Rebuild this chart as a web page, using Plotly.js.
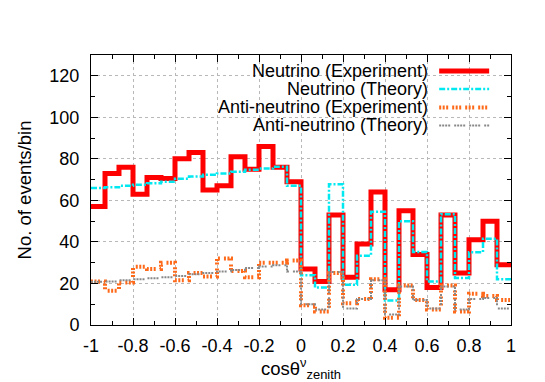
<!DOCTYPE html>
<html>
<head>
<meta charset="utf-8">
<script src="https://cdn.plot.ly/plotly-3.0.1.min.js"></script>
<style>html,body{margin:0;padding:0;background:#fff;}#chart{width:545px;height:382px;}</style>
</head>
<body>
<div id="chart"></div>
<script>
// Bin edges of cos(theta) zenith (30 bins)
var binEdges = [-1, -0.9333, -0.8667, -0.8, -0.7333, -0.6667, -0.6, -0.5333, -0.4667, -0.4,
  -0.3333, -0.2667, -0.2, -0.1333, -0.0667, 0, 0.0667, 0.1333, 0.2, 0.2667,
  0.3333, 0.4, 0.4667, 0.5333, 0.6, 0.6667, 0.7333, 0.8, 0.8667, 0.9333, 1];

var nuExp = [57, 73, 76, 63, 71, 70.5, 80, 83, 65, 67, 81, 75, 86, 76, 69,
  27, 21, 53, 23, 39, 64, 17, 55, 34, 18, 53, 25, 41, 50, 29];
var nuTheory = [66, 66.3, 67, 67.5, 68.2, 69, 70.4, 71.5, 72.3, 73, 73.8, 74.8, 75.3, 76.2, 67,
  24, 18, 67.8, 19.4, 33.4, 54.5, 11.8, 50, 35.2, 21, 53.3, 22.6, 35, 41.5, 22];
var antiExp = [21, 16.5, 20.5, 28, 27, 30, 21.5, 25, 23.3, 32, 26, 23, 30, 30, 31,
  9.5, 6.5, 25, 10.5, 12.5, 22, 3.5, 19, 12, 7.5, 19, 6.5, 15, 14, 12];
var antiTheory = [20.8, 21, 21.5, 22, 22.5, 23, 23.6, 24.4, 25, 25.8, 26.5, 27.5, 28.2, 28.8, 25.7,
  10, 7.5, 25.5, 8, 12.5, 21.5, 5, 18.5, 12, 8, 18.5, 7.5, 12.5, 13, 8];

var seriesNames = ["Neutrino (Experiment)", "Neutrino (Theory)", "Anti-neutrino (Experiment)", "Anti-neutrino (Theory)"];
var xTickVals = [-1, -0.8, -0.6, -0.4, -0.2, 0, 0.2, 0.4, 0.6, 0.8, 1];
var xTickText = ["-1", "-0.8", "-0.6", "-0.4", "-0.2", "0", "0.2", "0.4", "0.6", "0.8", "1"];
var yTickVals = [0, 20, 40, 60, 80, 100, 120];

var styles = [
  {color: "#ff0000", width: 5, dash: "solid"},
  {color: "#00e8f0", width: 2.5, dash: "6px,2px,2px,2px"},
  {color: "#ff6a1a", width: 4, dash: "2px,1.5px,2px,1.5px,2px,4px"},
  {color: "#888888", width: 2, dash: "2px,1px,2px,1px,2px,1px,2px,4px"}
];
var allSeries = [nuExp, nuTheory, antiExp, antiTheory];

function stepY(v) { return v.concat([v[v.length - 1]]); }

var traces = allSeries.map(function (s, i) {
  return {
    x: binEdges, y: stepY(s), type: "scatter", mode: "lines",
    line: {shape: "hv", color: styles[i].color, width: styles[i].width, dash: styles[i].dash},
    name: seriesNames[i], showlegend: false, hoverinfo: "skip"
  };
});

var FONT = "Liberation Sans, Arial, Helvetica, sans-serif";
var legRowsY = [0.941, 0.874, 0.806, 0.739];
var annotations = [], shapes = [];
seriesNames.forEach(function (n, i) {
  annotations.push({xref: "paper", yref: "paper", x: 0.805, y: legRowsY[i], xanchor: "right", yanchor: "middle",
    text: n, showarrow: false, borderpad: 0, font: {family: FONT, size: 18, color: "#000"}});
  shapes.push({type: "line", xref: "paper", yref: "paper", x0: 0.829, x1: 0.948, y0: legRowsY[i], y1: legRowsY[i],
    line: {color: styles[i].color, width: styles[i].width, dash: styles[i].dash}});
});

var layout = {
  width: 545, height: 382,
  margin: {l: 91, r: 34, t: 55, b: 57},
  paper_bgcolor: "#fff", plot_bgcolor: "#fff",
  font: {family: FONT, size: 18, color: "#000"},
  showlegend: false,
  xaxis: {
    range: [-1, 1], tickmode: "array", tickvals: xTickVals, ticktext: xTickText,
    ticks: "inside", ticklen: 7, tickcolor: "#000", mirror: "allticks",
    showline: true, linecolor: "#000", linewidth: 1,
    showgrid: true, gridcolor: "#b8b8b8", griddash: "dot", gridwidth: 1,
    zeroline: false,
    minor: {ticks: "inside", dtick: 0.1, tick0: -1, ticklen: 4, tickcolor: "#000", showgrid: false},
    tickfont: {family: FONT, size: 18},
    ticklabelstandoff: 4,
    automargin: false,
    title: {text: "cosθ<sup>ν</sup><sub>zenith</sub>", font: {family: FONT, size: 18.5}, standoff: 17}
  },
  yaxis: {
    range: [0, 130], tickmode: "array", tickvals: yTickVals,
    ticks: "inside", ticklen: 7, tickcolor: "#000", mirror: "allticks",
    showline: true, linecolor: "#000", linewidth: 1,
    showgrid: true, gridcolor: "#b8b8b8", griddash: "dot", gridwidth: 1,
    zeroline: false,
    minor: {ticks: "inside", dtick: 10, tick0: 0, ticklen: 4, tickcolor: "#000", showgrid: false},
    tickfont: {family: FONT, size: 18},
    ticklabelstandoff: 7,
    automargin: false,
    title: {text: "No. of events/bin", font: {family: FONT, size: 18.5}, standoff: 12}
  },
  annotations: annotations,
  shapes: shapes
};

Plotly.newPlot("chart", traces, layout, {staticPlot: true, displayModeBar: false});
</script>
</body>
</html>
